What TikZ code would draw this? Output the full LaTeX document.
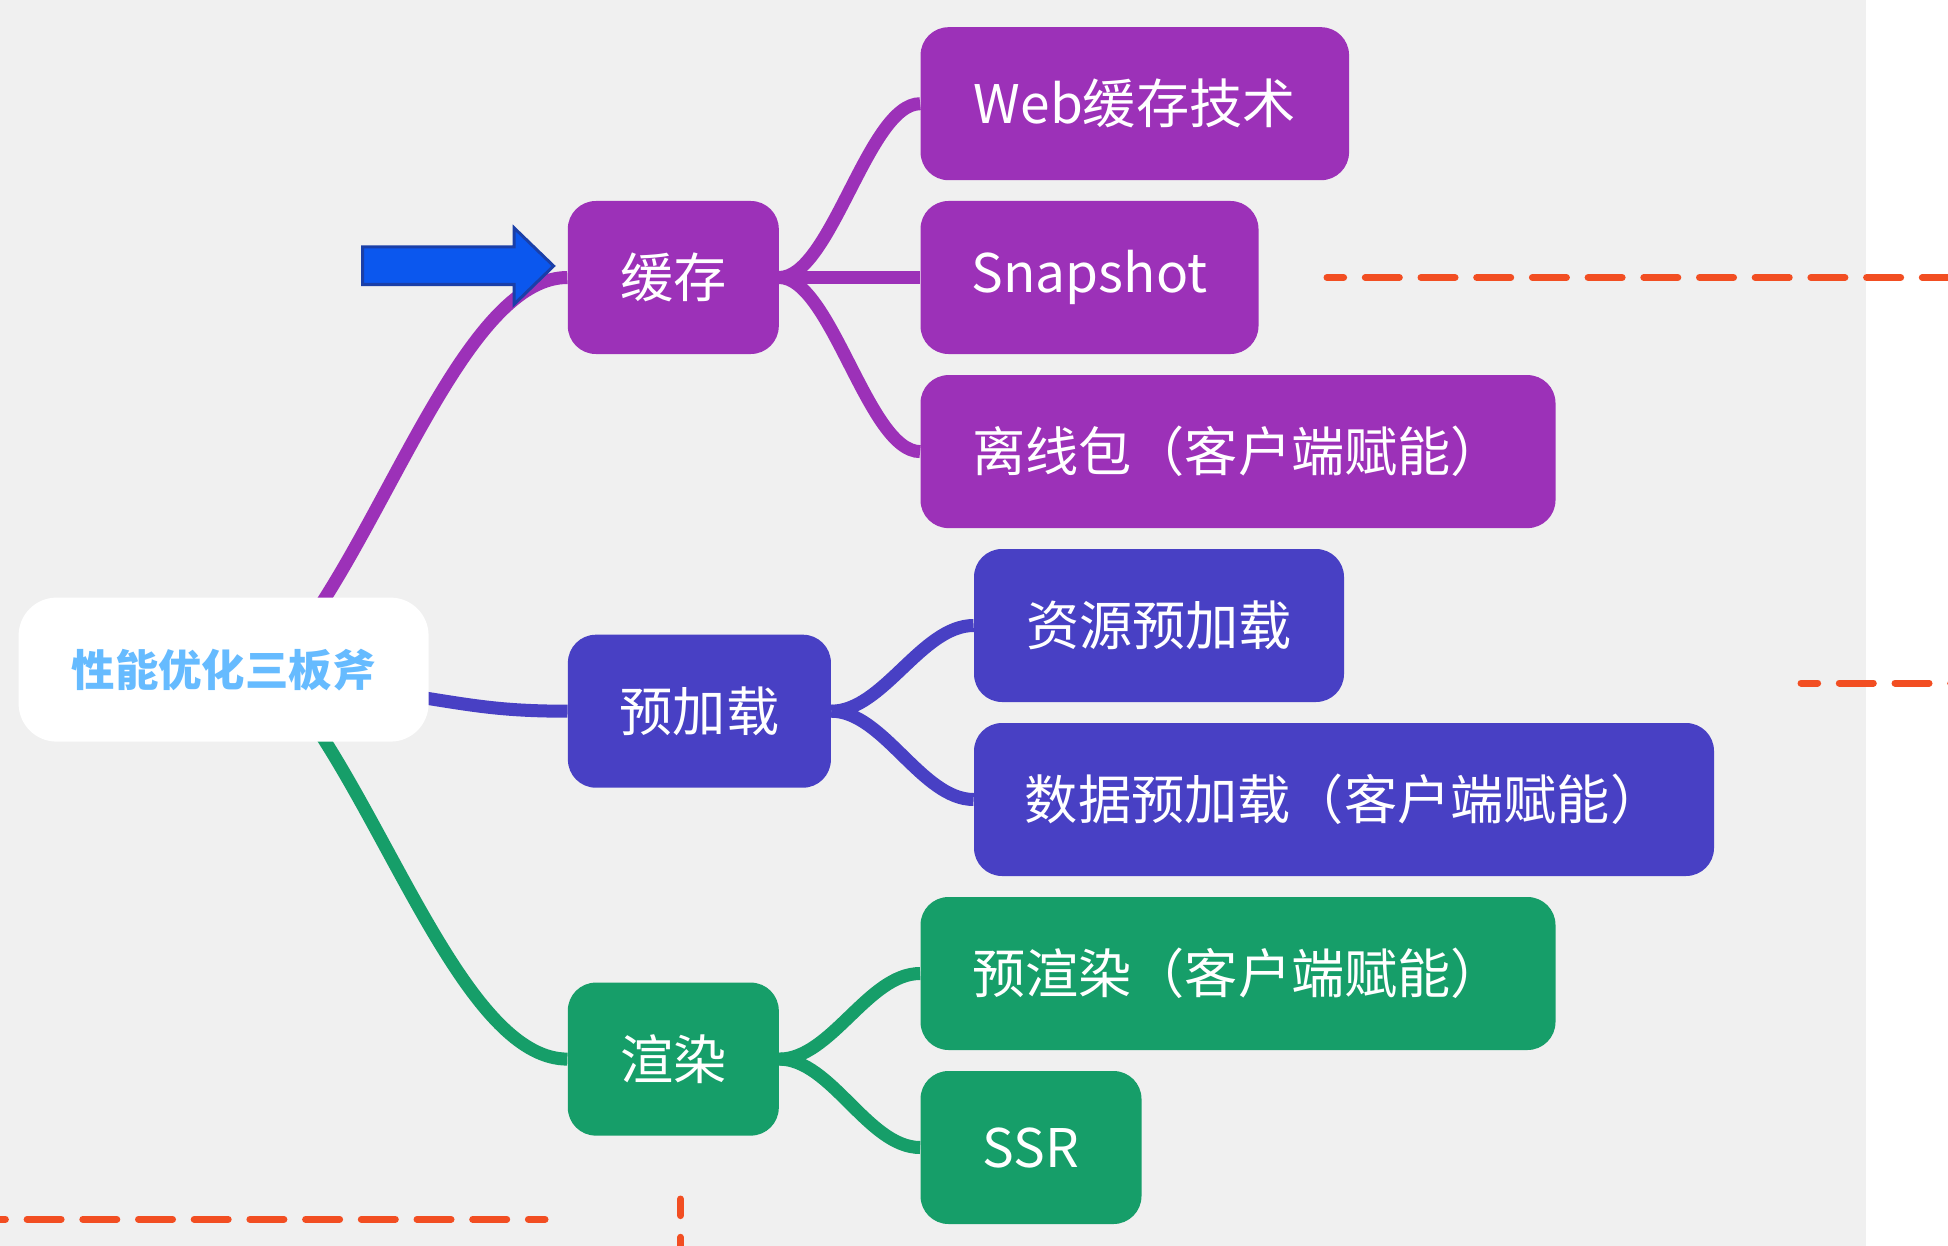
\documentclass[tikz,border=0pt]{standalone}
\usepackage{fontspec}
\newfontfamily\cjk{Noto Sans CJK SC}
\usetikzlibrary{calc}
\definecolor{cpurple}{HTML}{9C31B8}
\definecolor{cindigo}{HTML}{4840C4}
\definecolor{cgreen}{HTML}{169E69}
\definecolor{cbg}{HTML}{F0F0F0}
\definecolor{croottext}{HTML}{66BBFF}
\definecolor{cdash}{HTML}{F24E22}
\definecolor{carrow}{HTML}{0B57EE}
\definecolor{carrowb}{HTML}{1A3FA8}
\pgfdeclarelayer{bg}
\pgfsetlayers{bg,main}
\tikzset{
  topic/.style={rounded corners=14pt, fill=#1, text=white, inner sep=0pt,
    minimum height=76.5pt, font=\cjk\fontsize{26.6pt}{26.6pt}\selectfont},
  rootbox/.style={rounded corners=19pt, fill=white, inner sep=0pt,
    minimum width=205pt, minimum height=72pt, text=croottext,
    font=\cjk\bfseries\fontsize{21.7pt}{21.7pt}\selectfont},
  conn/.style={draw=#1, line width=6.5pt},
  reddash/.style={draw=cdash, line width=3.5pt, line cap=round,
    dash pattern=on 17pt off 10.85pt, dash phase=8.7pt}
}
\begin{document}
\begin{tikzpicture}[x=0.5pt,y=-0.5pt]
\useasboundingbox (0,0) rectangle (1948,1246);
% nodes
\node[rootbox] (root) at (223.6,669.6) {性能优化三板斧};
\node[topic=cpurple, minimum width=105.5pt] (cache) at (673.3,277.5) {缓存};
\node[topic=cindigo, minimum width=131.5pt] (preload) at (699.4,711.2) {预加载};
\node[topic=cgreen, minimum width=105.5pt] (render) at (673.3,1059.1) {渲染};
\node[topic=cpurple, minimum width=214.25pt] (web) at (1134.8,103.7) {Web缓存技术};
\node[topic=cpurple, minimum width=169pt] (snap) at (1089.5,277.5) {Snapshot};
\node[topic=cpurple, minimum width=317.5pt] (offline) at (1238,451.6) {离线包（客户端赋能）};
\node[topic=cindigo, minimum width=185pt] (res) at (1159,625.5) {资源预加载};
\node[topic=cindigo, minimum width=370pt] (data) at (1344,799.5) {数据预加载（客户端赋能）};
\node[topic=cgreen, minimum width=317.5pt] (prer) at (1238,973.5) {预渲染（客户端赋能）};
\node[topic=cgreen, minimum width=110.5pt] (ssr) at (1031,1147.5) {SSR};
% background and connectors
\begin{pgfonlayer}{bg}
\fill[white] (0,0) rectangle (1948,1246);
\fill[cbg] (0,0) rectangle (1866,1246);
\draw[conn=cpurple] ($(root.north)+(81,34)$) -- ($(root.north)+(102,0)$)
  .. controls +(80,-127) and +(-90,0) .. (cache.west);
\draw[conn=cgreen] ($(root.south)+(81,-34)$) -- ($(root.south)+(102,0)$)
  .. controls +(80,127) and +(-90,0) .. (render.west);
\draw[conn=cindigo] ($(root.east)+(-50,21)$) -- ($(root.east)+(0,29)$)
  .. controls +(50,8) and +(-60,0) .. (preload.west);
\draw[conn=cpurple] (cache.east) .. controls +(52,0) and +(-52,0) .. (web.west);
\draw[conn=cpurple] (cache.east) -- (snap.west);
\draw[conn=cpurple] (cache.east) .. controls +(52,0) and +(-52,0) .. (offline.west);
\draw[conn=cindigo] (preload.east) .. controls +(52,0) and +(-52,0) .. (res.west);
\draw[conn=cindigo] (preload.east) .. controls +(52,0) and +(-52,0) .. (data.west);
\draw[conn=cgreen] (render.east) .. controls +(52,0) and +(-52,0) .. (prer.west);
\draw[conn=cgreen] (render.east) .. controls +(52,0) and +(-52,0) .. (ssr.west);
\end{pgfonlayer}
% blue block arrow
\draw[fill=carrow, draw=carrowb, line width=1.5pt, line join=miter]
  (362.7,247) -- (514,247) -- (514,227.8) -- (553.6,266) -- (514,304.4)
  -- (514,284.5) -- (362.7,284.5) -- cycle;
% red dashed lines
\draw[reddash] (1327,277.5) -- (1960,277.5);
\draw[reddash] (1801,683) -- (1960,683);
\draw[reddash] (545,1219.3) -- (-12,1219.3);
\draw[reddash] (680.5,1199) -- (680.5,1260);
\end{tikzpicture}
\end{document}
